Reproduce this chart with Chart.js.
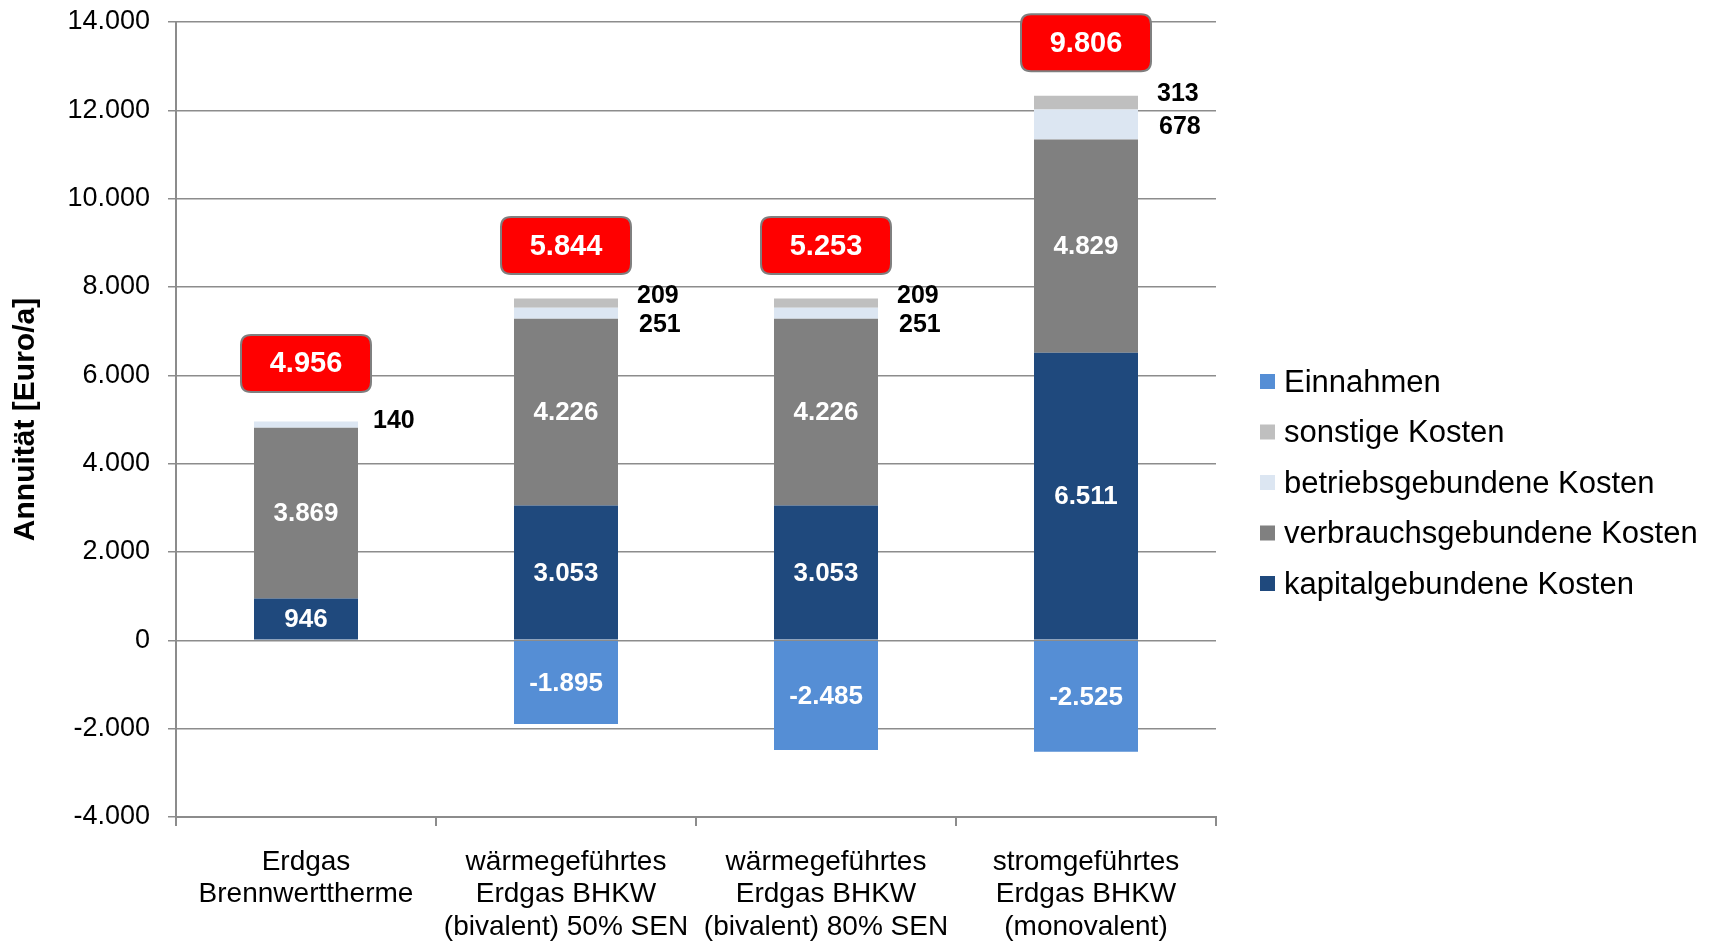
<!DOCTYPE html>
<html>
<head>
<meta charset="utf-8">
<script src="https://cdn.jsdelivr.net/npm/chart.js@4.4.0/dist/chart.umd.min.js"></script>
<style>
  html, body { margin: 0; padding: 0; background: #fff; overflow: hidden; }
</style>
</head>
<body>
<canvas id="chart" width="1713" height="942"></canvas>
<script>
/* =================================================
   DATA
================================================= */
const categories = [
  ['Erdgas', 'Brennwerttherme'],
  ['wärmegeführtes', 'Erdgas BHKW', '(bivalent) 50% SEN'],
  ['wärmegeführtes', 'Erdgas BHKW', '(bivalent) 80% SEN'],
  ['stromgeführtes', 'Erdgas BHKW', '(monovalent)']
];
const kapital   = [946, 3053, 3053, 6511];
const verbrauch = [3869, 4226, 4226, 4829];
const betrieb   = [140, 251, 251, 678];
const sonstige  = [0, 209, 209, 313];
const einnahmen = [0, -1895, -2485, -2525];
const totals    = [4956, 5844, 5253, 9806];
const yMin = -4000, yMax = 14000, yStep = 2000;

const FONT = '"Liberation Sans", Arial, sans-serif';
const GRID = '#8c8c8c';

function fmt(v) {
  const s = String(Math.abs(Math.round(v))).replace(/\B(?=(\d{3})+(?!\d))/g, '.');
  return (v < 0 ? '-' : '') + s;
}

/* =================================================
   LABELS / LEGEND / TOTALS
================================================= */
function roundRect(ctx, x, y, w, h, r) {
  ctx.beginPath();
  ctx.moveTo(x + r, y);
  ctx.lineTo(x + w - r, y);
  ctx.quadraticCurveTo(x + w, y, x + w, y + r);
  ctx.lineTo(x + w, y + h - r);
  ctx.quadraticCurveTo(x + w, y + h, x + w - r, y + h);
  ctx.lineTo(x + r, y + h);
  ctx.quadraticCurveTo(x, y + h, x, y + h - r);
  ctx.lineTo(x, y + r);
  ctx.quadraticCurveTo(x, y, x + r, y);
  ctx.closePath();
}

const extrasPlugin = {
  id: 'extras',
  afterDatasetsDraw(chart) {
    const ctx = chart.ctx;
    const ds = chart.data.datasets;
    ctx.save();

    // white labels inside the big segments
    ctx.font = 'bold 26px ' + FONT;
    ctx.fillStyle = '#fff';
    ctx.textAlign = 'center';
    ctx.textBaseline = 'middle';
    [0, 1, 4].forEach(di => {
      chart.getDatasetMeta(di).data.forEach((bar, i) => {
        const v = ds[di].data[i];
        if (!v) return;
        ctx.fillText(fmt(v), bar.x, (bar.y + bar.base) / 2 + 1);
      });
    });

    // black labels right of the thin segments
    ctx.font = 'bold 25px ' + FONT;
    ctx.fillStyle = '#000';
    ctx.textAlign = 'left';
    const mB = chart.getDatasetMeta(2), mS = chart.getDatasetMeta(3);
    mB.data.forEach((bar, i) => {
      const sBar = mS.data[i];
      const x = bar.x + bar.width / 2 + 19;
      const center = (bar.y + bar.base) / 2;
      if (sonstige[i]) {
        const sy = sBar.y - 2;
        ctx.fillText(fmt(sonstige[i]), x, sy);
        if (betrieb[i]) ctx.fillText(fmt(betrieb[i]), x + 2, Math.max(center + 3, sy + 28.5));
      } else if (betrieb[i]) {
        ctx.fillText(fmt(betrieb[i]), x - 4, center - 3);
      }
    });

    // red total boxes
    mS.data.forEach((bar, i) => {
      const w = 130, h = 57;
      const cy = bar.y - (sonstige[i] ? 53 : 58);
      roundRect(ctx, bar.x - w / 2, cy - h / 2, w, h, 10);
      ctx.fillStyle = '#ff0000';
      ctx.fill();
      ctx.lineWidth = 2;
      ctx.strokeStyle = '#7f7f7f';
      ctx.stroke();
      ctx.fillStyle = '#fff';
      ctx.font = 'bold 29px ' + FONT;
      ctx.textAlign = 'center';
      ctx.fillText(fmt(totals[i]), bar.x, cy + 1);
    });

    // legend on the right (reverse order)
    const lx = chart.chartArea.right + 44;
    const order = [4, 3, 2, 1, 0];
    ctx.font = '31px ' + FONT;
    ctx.textAlign = 'left';
    order.forEach((di, k) => {
      const cy = 382 + k * 50.5;
      ctx.fillStyle = ds[di].backgroundColor;
      ctx.fillRect(lx, cy - 8, 15, 15);
      ctx.fillStyle = '#000';
      ctx.fillText(ds[di].label, lx + 24, cy + 1);
    });

    ctx.restore();
  }
};

/* =================================================
   CHART
================================================= */
new Chart(document.getElementById('chart'), {
  type: 'bar',
  data: {
    labels: categories,
    datasets: [
      { label: 'kapitalgebundene Kosten', data: kapital, backgroundColor: '#1f497d' },
      { label: 'verbrauchsgebundene Kosten', data: verbrauch, backgroundColor: '#808080' },
      { label: 'betriebsgebundene Kosten', data: betrieb, backgroundColor: '#dce6f2' },
      { label: 'sonstige Kosten', data: sonstige, backgroundColor: '#bfbfbf' },
      { label: 'Einnahmen', data: einnahmen, backgroundColor: '#558ed5' }
    ]
  },
  options: {
    responsive: false,
    animation: false,
    barPercentage: 0.4,
    categoryPercentage: 1,
    layout: { padding: { left: 0, right: 497, top: 22, bottom: 0 } },
    plugins: { legend: { display: false }, tooltip: { enabled: false } },
    scales: {
      x: {
        stacked: true,
        offset: true,
        grid: { offset: true, drawOnChartArea: false, drawTicks: true, tickLength: 9, color: GRID, lineWidth: 2 },
        border: { display: true, color: GRID, width: 2 },
        ticks: { color: '#000', padding: 20, maxRotation: 0, font: { family: FONT, size: 28, lineHeight: 1.16 } },
        afterFit: s => { s.height = 125; }
      },
      y: {
        stacked: true,
        min: yMin, max: yMax,
        grid: { color: GRID, lineWidth: 1.5, tickLength: 8 },
        border: { display: true, color: GRID, width: 2 },
        ticks: { stepSize: yStep, color: '#000', padding: 18, callback: v => fmt(v), font: { family: FONT, size: 27 } },
        title: { display: true, text: 'Annuität [Euro/a]', color: '#000', padding: { top: 8, bottom: 0 }, font: { family: FONT, size: 30, weight: 'bold' } },
        afterFit: s => { s.width = 176; s.paddingTop = 0; s.paddingBottom = 0; }
      }
    }
  },
  plugins: [extrasPlugin]
});
</script>
</body>
</html>
